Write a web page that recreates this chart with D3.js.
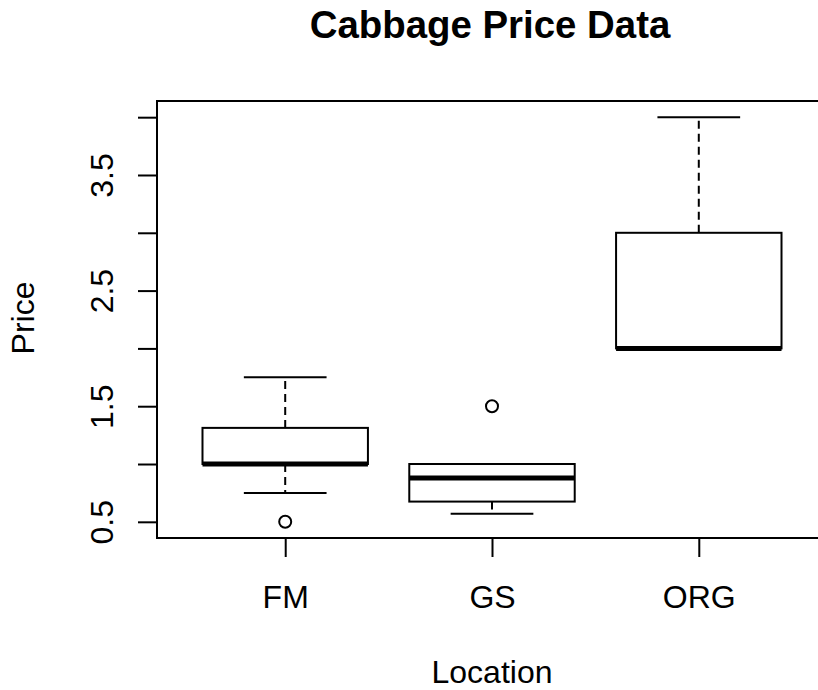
<!DOCTYPE html>
<html>
<head>
<meta charset="utf-8">
<script src="https://cdn.jsdelivr.net/npm/d3@7/dist/d3.min.js"></script>
<style>
  html, body { margin: 0; padding: 0; background: #fff; }
  svg { display: block; font-family: "Liberation Sans", Arial, sans-serif; }
</style>
</head>
<body>
<svg id="chart" width="818" height="690"></svg>
<script>
// ---- data ----
const categories   = ["FM", "GS", "ORG"];
const lowerWhisker = [0.75, 0.57, 2.0];
const q1Values     = [1.0, 0.675, 2.0];
const medians      = [1.0, 0.88, 2.0];
const q3Values     = [1.3125, 1.0, 3.0];
const upperWhisker = [1.75, 1.0, 4.0];
const outliers     = [[0.5], [1.5], []];
const yTicks       = [0.5, 1.0, 1.5, 2.0, 2.5, 3.0, 3.5, 4.0];
const yTickLabels  = ["0.5", "", "1.5", "", "2.5", "", "3.5", ""];
const titleText = "Cabbage Price Data";
const xTitle = "Location";
const yTitle = "Price";

// ---- layout ----
const svg = d3.select("#chart");
const plot = { left: 157, right: 827, top: 101, bottom: 538 };

const x = d3.scaleLinear().domain([0.38, 3.62]).range([plot.left, plot.right]);
const y = d3.scaleLinear().domain([0.36, 4.14]).range([plot.bottom, plot.top]);
const boxW = (x(1.4) - x(1));   // half of 0.8 box width
const capW = boxW / 2;

const boxes = categories.map((c, i) => ({
  cat: c, pos: i + 1,
  lo: lowerWhisker[i], q1: q1Values[i], med: medians[i], q3: q3Values[i], hi: upperWhisker[i],
  out: outliers[i]
}));

const g = svg.append("g");

boxes.forEach(b => {
  const cx = x(b.pos);
  const gb = g.append("g");
  // whiskers (dashed)
  if (b.hi > b.q3) {
    gb.append("line").attr("x1", cx).attr("x2", cx).attr("y1", y(b.q3)).attr("y2", y(b.hi))
      .attr("stroke", "#000").attr("stroke-width", 2).attr("stroke-dasharray", "8,5");
  }
  if (b.lo < b.q1) {
    gb.append("line").attr("x1", cx).attr("x2", cx).attr("y1", y(b.q1)).attr("y2", y(b.lo))
      .attr("stroke", "#000").attr("stroke-width", 2).attr("stroke-dasharray", "8,5");
  }
  // caps
  [b.lo, b.hi].forEach(v => {
    gb.append("line").attr("x1", cx - capW).attr("x2", cx + capW).attr("y1", y(v)).attr("y2", y(v))
      .attr("stroke", "#000").attr("stroke-width", 2);
  });
  // box
  gb.append("rect")
    .attr("x", cx - boxW).attr("width", 2 * boxW)
    .attr("y", y(b.q3)).attr("height", y(b.q1) - y(b.q3))
    .attr("fill", "#fff").attr("stroke", "#000").attr("stroke-width", 2);
  // median
  gb.append("line").attr("x1", cx - boxW).attr("x2", cx + boxW).attr("y1", y(b.med)).attr("y2", y(b.med))
    .attr("stroke", "#000").attr("stroke-width", 5);
  // outliers
  gb.selectAll("circle.out").data(b.out).join("circle")
    .attr("class", "out")
    .attr("cx", cx).attr("cy", d => y(d)).attr("r", 6)
    .attr("fill", "none").attr("stroke", "#000").attr("stroke-width", 2);
});

// plot frame
svg.append("rect")
  .attr("x", plot.left).attr("y", plot.top)
  .attr("width", plot.right - plot.left).attr("height", plot.bottom - plot.top)
  .attr("fill", "none").attr("stroke", "#000").attr("stroke-width", 2);

// y axis
const yAxis = svg.append("g")
  .attr("transform", `translate(${plot.left},0)`)
  .call(d3.axisLeft(y).tickValues(yTicks).tickSize(19).tickFormat((d, i) => yTickLabels[i]));
yAxis.select(".domain").remove();
yAxis.selectAll(".tick line").attr("stroke", "#000").attr("stroke-width", 2);
yAxis.selectAll(".tick text")
  .attr("x", 0).attr("y", -44).attr("dy", null)
  .attr("transform", "rotate(-90)")
  .attr("text-anchor", "middle")
  .attr("font-size", 32).attr("font-family", "Liberation Sans, Arial, sans-serif")
  .attr("fill", "#000");

// x axis
const xAxis = svg.append("g")
  .attr("transform", `translate(0,${plot.bottom})`)
  .call(d3.axisBottom(x).tickValues([1, 2, 3]).tickSize(19).tickFormat((d, i) => categories[i]));
xAxis.select(".domain").remove();
xAxis.selectAll(".tick line").attr("stroke", "#000").attr("stroke-width", 2);
xAxis.selectAll(".tick text")
  .attr("y", 70).attr("dy", null)
  .attr("font-size", 32).attr("font-family", "Liberation Sans, Arial, sans-serif")
  .attr("fill", "#000");

// titles
svg.append("text")
  .attr("x", 490).attr("y", 37.5)
  .attr("text-anchor", "middle")
  .attr("font-size", 38.4).attr("font-weight", "bold")
  .text(titleText);

svg.append("text")
  .attr("x", 492).attr("y", 683)
  .attr("text-anchor", "middle")
  .attr("font-size", 32)
  .text(xTitle);

svg.append("text")
  .attr("transform", "translate(34,318) rotate(-90)")
  .attr("text-anchor", "middle")
  .attr("font-size", 32)
  .text(yTitle);
</script>
</body>
</html>
